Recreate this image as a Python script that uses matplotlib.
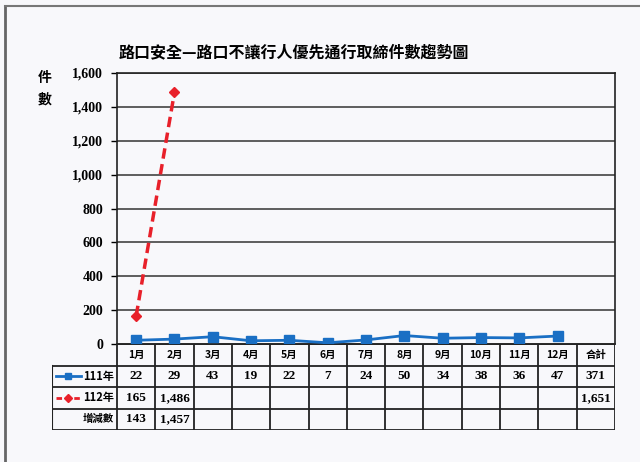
import matplotlib
matplotlib.use("Agg")
import matplotlib.pyplot as plt
from matplotlib.lines import Line2D
from matplotlib.ticker import FuncFormatter

plt.rcParams["font.family"] = ["Noto Sans CJK TC", "DejaVu Sans"]

# data
months = ["1月", "2月", "3月", "4月", "5月", "6月", "7月", "8月", "9月", "10月", "11月", "12月"]
y111 = [22, 29, 43, 19, 22, 7, 24, 50, 34, 38, 36, 47]
y112 = [165, 1486]
diff = [143, 1457]
total_111 = 371
total_112 = 1651
total_label = "合計"
y_ticks = [0, 200, 400, 600, 800, 1000, 1200, 1400, 1600]

blue = "#1a6fc4"
red = "#e8202a"
paper = "#f8f8fb"
num_font = ["Liberation Serif", "DejaVu Serif"]

W, H = 640, 462
fig = plt.figure(figsize=(6.4, 4.62), dpi=100, facecolor=paper)

# page frame from the scan
fig.add_artist(Line2D([5 / W, 5 / W], [0, 1 - 6 / H], color="#666666", lw=2))
fig.add_artist(Line2D([5 / W, 1], [1 - 6 / H, 1 - 6 / H], color="#777777", lw=1.5))

# plot area
left, right, top, bottom = 117, 615, 73, 344
ax = fig.add_axes([left / W, 1 - bottom / H, (right - left) / W, (bottom - top) / H])
ax.set_facecolor(paper)
x = list(range(1, len(months) + 1))
ax.plot(x, y111, color=blue, lw=2, marker="s", ms=6.5, mfc=blue, mec=blue, zorder=3)
ax.plot(x[:len(y112)], y112, color=red, lw=2.5, ls=(0, (3, 1.6)), marker="D",
        ms=5, mfc=red, mec=red, zorder=4)
ax.set_xlim(0.5, len(months) + 1.5)
ax.set_ylim(0, 1600)
ax.set_yticks(y_ticks)
ax.yaxis.set_major_formatter(FuncFormatter(lambda v, p: f"{int(v):,}"))
ax.set_xticks([])
ax.grid(axis="y", color="#333333", lw=1.1)
ax.set_axisbelow(True)
for s in ax.spines.values():
    s.set_color("#222222")
    s.set_linewidth(1.2)
ax.tick_params(axis="y", length=4, width=1, pad=6, labelsize=10)
for t in ax.get_yticklabels():
    t.set_fontweight("bold")
    t.set_family(num_font)

fig.text(45 / W, 1 - 78 / H, "件", fontsize=10, fontweight="bold", ha="center", va="center")
fig.text(45 / W, 1 - 100 / H, "數", fontsize=10, fontweight="bold", ha="center", va="center")
fig.text(294 / W, 1 - 52 / H, "路口安全—路口不讓行人優先通行取締件數趨勢圖",
         fontsize=11.5, fontweight="bold", ha="center", va="center")

# data table under the chart
unit = (right - left) / (len(months) + 1)
lab_w = (left - 52) / unit
tb_top, tb_bot = 344, 430
tax = fig.add_axes([52 / W, 1 - tb_bot / H, (right - 52) / W, (tb_bot - tb_top) / H])
tax.set_xlim(0.5 - lab_w, len(months) + 1.5)
tax.set_ylim(4, 0)
tax.axis("off")
x0 = 0.5 - lab_w
x1 = len(months) + 1.5
lc = "#222222"
tax.plot([0.5, x1], [0, 0], color=lc, lw=1.3)
for r in (1, 2, 3, 4):
    tax.plot([x0, x1], [r, r], color=lc, lw=1.3)
tax.plot([x0, x0], [1, 4], color=lc, lw=1.5)
for i in range(len(months) + 2):
    tax.plot([0.5 + i, 0.5 + i], [0, 4], color=lc, lw=1.3)

num_kw = dict(ha="center", va="center", fontsize=9.5, fontweight="bold", family=num_font)
for i, m in enumerate(months):
    tax.text(i + 1, 0.5, m, ha="center", va="center", fontsize=7.5, fontweight="bold")
tax.text(len(months) + 1, 0.5, total_label, ha="center", va="center", fontsize=7.5, fontweight="bold")
for i, v in enumerate(y111):
    tax.text(i + 1, 1.5, f"{v:,}", **num_kw)
tax.text(len(months) + 1, 1.5, f"{total_111:,}", **num_kw)
for i, v in enumerate(y112):
    tax.text(i + 1, 2.5, f"{v:,}", **num_kw)
tax.text(len(months) + 1, 2.5, f"{total_112:,}", **num_kw)
for i, v in enumerate(diff):
    tax.text(i + 1, 3.5, f"{v:,}", **num_kw)

# legend keys in the row labels
tax.plot([x0 + 0.1, x0 + 0.75], [1.5, 1.5], color=blue, lw=2)
tax.plot([x0 + 0.42], [1.5], marker="s", ms=5, color=blue)
tax.plot([x0 + 0.1, x0 + 0.75], [2.5, 2.5], color=red, lw=2, ls=(0, (2, 1.2)))
tax.plot([x0 + 0.42], [2.5], marker="D", ms=4, color=red)
tax.text(x0 + 0.82, 1.5, "111年", ha="left", va="center", fontsize=8, fontweight="bold")
tax.text(x0 + 0.82, 2.5, "112年", ha="left", va="center", fontsize=8, fontweight="bold")
tax.text(0.42, 3.5, "增減數", ha="right", va="center", fontsize=7.5, fontweight="bold")

fig.savefig("out.png", dpi=100, facecolor=paper)
